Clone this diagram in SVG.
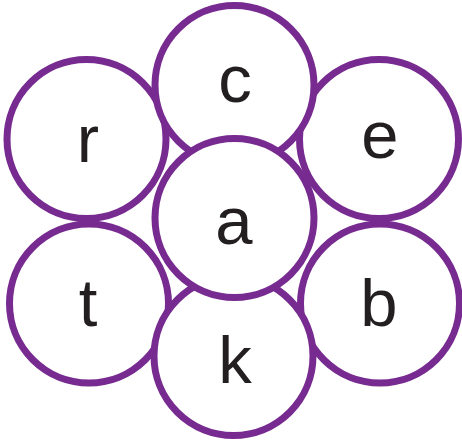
<svg xmlns="http://www.w3.org/2000/svg" width="462" height="443" viewBox="0 0 462 443">
<style>
.n{fill:#fff;stroke:#772a90;stroke-width:7}
.t{font-family:"Liberation Sans",Arial,sans-serif;font-size:67px;fill:#231f20;text-anchor:middle}
</style>
<rect width="462" height="443" fill="#fff"/>
<g id="connectors"></g>
<g id="node-r"><circle class="n" cx="86.5" cy="139" r="79.5"/><text class="t" x="88" y="162">r</text></g>
<g id="node-e"><circle class="n" cx="379" cy="139" r="79.5"/><text class="t" x="380" y="158">e</text></g>
<g id="node-t"><circle class="n" cx="89" cy="303.5" r="79.5"/><text class="t" x="88" y="326">t</text></g>
<g id="node-b"><circle class="n" cx="380" cy="303.5" r="79.5"/><text class="t" x="379" y="326">b</text></g>
<g id="node-c"><circle class="n" cx="234.5" cy="85" r="79.5"/><text class="t" x="235" y="102">c</text></g>
<g id="node-k"><circle class="n" cx="233.5" cy="356" r="79.5"/><text class="t" x="235" y="383">k</text></g>
<g id="node-a"><circle class="n" cx="234.5" cy="218" r="79.5"/><text class="t" x="234" y="244">a</text></g>
</svg>
